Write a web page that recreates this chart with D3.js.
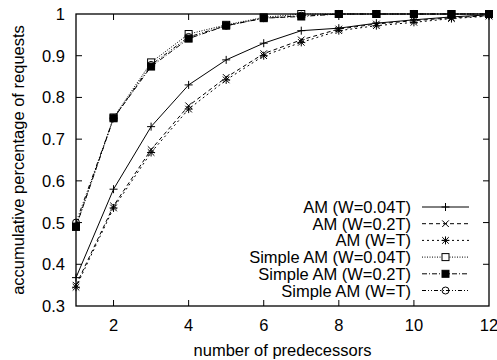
<!DOCTYPE html>
<html>
<head>
<meta charset="utf-8">
<script src="https://cdn.jsdelivr.net/npm/d3@7"></script>
<style>
body { margin: 0; background: #fff; }
text { font-family: "Liberation Sans", Arial, sans-serif; }
</style>
</head>
<body>
<div class="canvas"></div>
<script>
// data
var xs = [1, 2, 3, 4, 5, 6, 7, 8, 9, 10, 11, 12];
var am004 = [0.368, 0.58, 0.73, 0.83, 0.89, 0.93, 0.96, 0.966, 0.978, 0.986, 0.993, 0.998];
var am02 = [0.35, 0.54, 0.675, 0.78, 0.848, 0.905, 0.938, 0.964, 0.976, 0.984, 0.991, 0.996];
var amT = [0.345, 0.535, 0.668, 0.772, 0.842, 0.9, 0.932, 0.96, 0.972, 0.98, 0.989, 0.995];
var sam004 = [0.49, 0.752, 0.884, 0.952, 0.974, 0.992, 1.0, 1.0, 1.0, 1.0, 1.0, 1.0];
var sam02 = [0.49, 0.75, 0.874, 0.941, 0.972, 0.99, 0.994, 1.0, 1.0, 1.0, 1.0, 1.0];
var samT = [0.5, 0.75, 0.878, 0.945, 0.972, 0.99, 0.996, 1.0, 1.0, 1.0, 1.0, 1.0];
var seriesNames = ["AM (W=0.04T)", "AM (W=0.2T)", "AM (W=T)",
                   "Simple AM (W=0.04T)", "Simple AM (W=0.2T)", "Simple AM (W=T)"];
var xTicks = [2, 4, 6, 8, 10, 12];
var yTicks = [0.3, 0.4, 0.5, 0.6, 0.7, 0.8, 0.9, 1];

var series = [
  {name: seriesNames[0], values: am004, dash: null, mark: "plus"},
  {name: seriesNames[1], values: am02, dash: "4,3", mark: "cross"},
  {name: seriesNames[2], values: amT, dash: "2,3", mark: "star"},
  {name: seriesNames[3], values: sam004, dash: "1,1.5", mark: "osquare"},
  {name: seriesNames[4], values: sam02, dash: "5,2,1,2", mark: "fsquare"},
  {name: seriesNames[5], values: samT, dash: "4,2,1,2,1,2", mark: "circle"}
];

var W = 497, H = 360;
var pLeft = 76, pRight = 489, pTop = 14, pBottom = 306;
var fs = "16.5px";

var svg = d3.select(".canvas")
  .append("svg")
  .attr("width", W)
  .attr("height", H);

var x = d3.scaleLinear().domain([1, 12]).range([pLeft, pRight]);
var y = d3.scaleLinear().domain([0.3, 1]).range([pBottom, pTop]);

// ticks (gnuplot style, inward on all sides)
var tl = 6;
var g = svg.append("g").attr("stroke", "#000").attr("stroke-width", 1);
xTicks.forEach(function(t) {
  if (t === 12) return;
  g.append("line").attr("x1", x(t)).attr("x2", x(t)).attr("y1", pBottom).attr("y2", pBottom - tl);
  g.append("line").attr("x1", x(t)).attr("x2", x(t)).attr("y1", pTop).attr("y2", pTop + tl);
});
yTicks.forEach(function(t) {
  if (t === 1 || t === 0.3) return;
  g.append("line").attr("x1", pLeft).attr("x2", pLeft + tl).attr("y1", y(t)).attr("y2", y(t));
  g.append("line").attr("x1", pRight).attr("x2", pRight - tl).attr("y1", y(t)).attr("y2", y(t));
});

// tick labels
svg.selectAll(".xl").data(xTicks).enter().append("text")
  .attr("x", function(d) { return x(d); })
  .attr("y", 331)
  .attr("text-anchor", "middle")
  .style("font-size", fs)
  .text(function(d) { return d; });
svg.selectAll(".yl").data(yTicks).enter().append("text")
  .attr("x", 65)
  .attr("y", function(d) { return y(d) + 6; })
  .attr("text-anchor", "end")
  .style("font-size", fs)
  .text(function(d) { return d; });

// axis titles
svg.append("text")
  .attr("x", (pLeft + pRight) / 2)
  .attr("y", 356)
  .attr("text-anchor", "middle")
  .style("font-size", fs)
  .text("number of predecessors");
svg.append("text")
  .attr("transform", "translate(24," + ((pTop + pBottom) / 2) + ") rotate(-90)")
  .attr("text-anchor", "middle")
  .style("font-size", fs)
  .text("accumulative percentage of requests");

// markers
function drawMark(sel, type, cx, cy) {
  var s = 4;
  if (type === "plus" || type === "star") {
    sel.append("line").attr("x1", cx - s).attr("x2", cx + s).attr("y1", cy).attr("y2", cy);
    sel.append("line").attr("x1", cx).attr("x2", cx).attr("y1", cy - s).attr("y2", cy + s);
  }
  if (type === "cross" || type === "star") {
    var c = 3.3;
    sel.append("line").attr("x1", cx - c).attr("x2", cx + c).attr("y1", cy - c).attr("y2", cy + c);
    sel.append("line").attr("x1", cx - c).attr("x2", cx + c).attr("y1", cy + c).attr("y2", cy - c);
  }
  if (type === "osquare" || type === "fsquare") {
    sel.append("rect").attr("x", cx - 3.5).attr("y", cy - 3.5).attr("width", 7).attr("height", 7)
      .attr("fill", type === "fsquare" ? "#000" : "#fff");
  }
  if (type === "circle") {
    sel.append("circle").attr("cx", cx).attr("cy", cy).attr("r", 3.5).attr("fill", "none");
  }
}

var line = d3.line()
  .x(function(d, i) { return x(xs[i]); })
  .y(function(d) { return y(d); });

series.forEach(function(s) {
  var sg = svg.append("g").attr("stroke", "#000").attr("stroke-width", 1).attr("fill", "none");
  sg.append("path").attr("d", line(s.values)).attr("stroke-dasharray", s.dash);
  s.values.forEach(function(v, i) { drawMark(sg, s.mark, x(xs[i]), y(v)); });
});

// frame
svg.append("rect")
  .attr("x", pLeft).attr("y", pTop)
  .attr("width", pRight - pLeft).attr("height", pBottom - pTop)
  .attr("fill", "none").attr("stroke", "#000").attr("stroke-width", 1.3);

// legend
var ly0 = 207, ldy = 16.7;
series.forEach(function(s, i) {
  var ly = ly0 + i * ldy;
  svg.append("text")
    .attr("x", 411).attr("y", ly + 6)
    .attr("text-anchor", "end")
    .style("font-size", fs)
    .text(s.name);
  var lg = svg.append("g").attr("stroke", "#000").attr("stroke-width", 1).attr("fill", "none");
  lg.append("line").attr("x1", 422).attr("x2", 469).attr("y1", ly).attr("y2", ly)
    .attr("stroke-dasharray", s.dash);
  drawMark(lg, s.mark, 445.5, ly);
});
</script>
</body>
</html>
